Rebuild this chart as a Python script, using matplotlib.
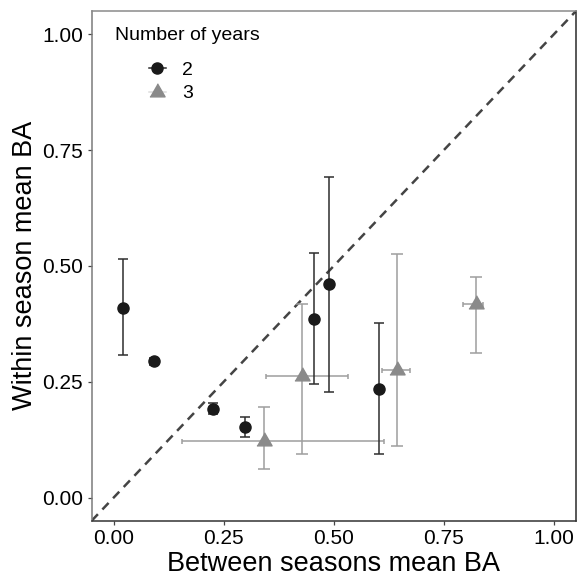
import matplotlib
matplotlib.use("Agg")
import matplotlib.pyplot as plt
from matplotlib.lines import Line2D
import numpy as np

plt.rcParams['font.family'] = ['Liberation Sans', 'DejaVu Sans']

# ---- data: 2 years (black circles) ----
x2 = [0.021, 0.092, 0.226, 0.298, 0.455, 0.488, 0.603]
y2 = [0.410, 0.294, 0.191, 0.152, 0.386, 0.460, 0.235]
y2_lo = [0.307, 0.287, 0.180, 0.131, 0.246, 0.228, 0.094]
y2_hi = [0.514, 0.301, 0.203, 0.174, 0.527, 0.692, 0.377]

# ---- data: 3 years (grey triangles) ----
x3 = [0.342, 0.427, 0.643, 0.822]
y3 = [0.123, 0.262, 0.276, 0.418]
y3_lo = [0.062, 0.094, 0.112, 0.312]
y3_hi = [0.195, 0.417, 0.526, 0.476]
x3_lo = [0.154, 0.346, 0.609, 0.794]
x3_hi = [0.615, 0.532, 0.674, 0.839]

ticks = [0.0, 0.25, 0.5, 0.75, 1.0]
tick_labels = ["0.00", "0.25", "0.50", "0.75", "1.00"]
legend_title = "Number of years"
legend_labels = ["2", "3"]

C_BLACK = "#1a1a1a"
C_BLACK_ERR = "#2e2e2e"
C_GREY = "#8a8a8a"
C_GREY_ERR = "#9e9e9e"

fig = plt.figure(figsize=(5.77, 5.79), dpi=100)
ax = fig.add_axes([91.7 / 577, (579 - 520.7) / 579, (576 - 91.7) / 577, (520.7 - 11) / 579])

# diagonal reference line
ax.axline((0, 0), slope=1, color="#444444", lw=1.8, dashes=(3.6, 2.6), zorder=1)

x2a, y2a = np.array(x2), np.array(y2)
x3a, y3a = np.array(x3), np.array(y3)

tri = [(-1, -0.577), (1, -0.577), (0, 1.155)]

# grey series error bars
ax.errorbar(x3a, y3a, yerr=[y3a - np.array(y3_lo), np.array(y3_hi) - y3a], fmt="none",
            ecolor=C_GREY_ERR, elinewidth=1.1, capsize=4.0, capthick=1.1, zorder=2)
ax.errorbar(x3a, y3a, xerr=[x3a - np.array(x3_lo), np.array(x3_hi) - x3a], fmt="none",
            ecolor=C_GREY_ERR, elinewidth=1.1, capsize=1.8, capthick=1.1, zorder=2)
ax.plot(x3a, y3a, linestyle="none", marker=tri, markersize=12.6, color=C_GREY, mec=C_GREY, zorder=3)

# black series error bars
ax.errorbar(x2a, y2a, yerr=[y2a - np.array(y2_lo), np.array(y2_hi) - y2a], fmt="none",
            ecolor=C_BLACK_ERR, elinewidth=1.1, capsize=3.6, capthick=1.1, zorder=2)
ax.plot(x2a, y2a, linestyle="none", marker="o", markersize=8.0, color=C_BLACK, mec=C_BLACK, zorder=4)

ax.set_xlim(-0.05, 1.05)
ax.set_ylim(-0.05, 1.05)
ax.set_xticks(ticks)
ax.set_xticklabels(tick_labels)
ax.set_yticks(ticks)
ax.set_yticklabels(tick_labels)
ax.tick_params(axis="both", labelsize=15, length=3, width=0.9, color="#444444", pad=3.2,
               labelcolor="black")

for side, col in [("left", "#7a7a7a"), ("top", "#8a8a8a"), ("right", "#2a2a2a"), ("bottom", "#333333")]:
    ax.spines[side].set_color(col)
    ax.spines[side].set_linewidth(1.1)

ax.set_xlabel("Between seasons mean BA", fontsize=19.5, labelpad=2)
ax.set_ylabel("Within season mean BA", fontsize=19.5, labelpad=3)

# legend
fig.text(115 / 577, 1 - 36 / 579, legend_title, fontsize=14, ha="left", va="center")
handles = [
    Line2D([0], [0], color=C_BLACK_ERR, lw=1.1, marker="o", markersize=8.0, mfc=C_BLACK, mec=C_BLACK),
    Line2D([0], [0], color="#dcdcdc", lw=1.1, marker=tri, markersize=12.6, mfc=C_GREY, mec=C_GREY),
]
leg = ax.legend(handles, legend_labels, loc="upper left",
                bbox_to_anchor=(148.5 / 577, 1 - 61 / 579), bbox_transform=fig.transFigure,
                frameon=False, fontsize=14, handlelength=0.88, handletextpad=0.85,
                labelspacing=0.32, borderpad=0, borderaxespad=0)

fig.savefig("out.png", dpi=100)
